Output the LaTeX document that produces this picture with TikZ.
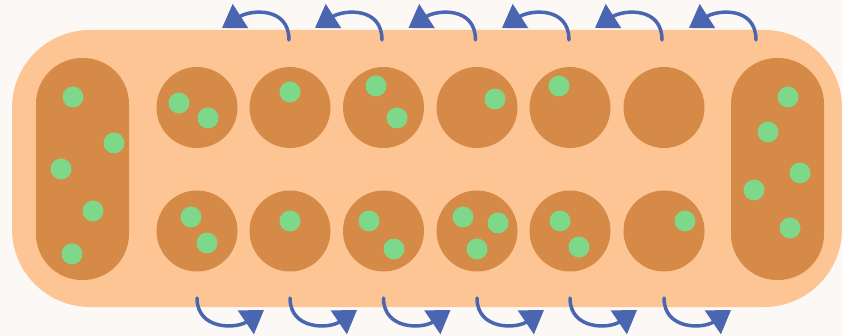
\documentclass[tikz,border=0pt]{standalone}
\usetikzlibrary{arrows.meta}
\definecolor{bgc}{HTML}{FCF8F5}
\definecolor{boardc}{HTML}{FDC594}
\definecolor{pitc}{HTML}{D68A47}
\definecolor{seedc}{HTML}{7ED88A}
\definecolor{arrowc}{HTML}{4A66B0}
\begin{document}
\begin{tikzpicture}[x=1pt,y=-1pt,
  pit/.style={circle,fill=pitc,minimum size=81pt,inner sep=0pt},
  store/.style={rectangle,fill=pitc,minimum width=93pt,minimum height=222pt,rounded corners=46pt,inner sep=0pt},
  seed/.style={fill=seedc},
  sow/.style={draw=arrowc,line width=3.5pt,line cap=round,-{Triangle[length=22pt,width=28pt]}}]
% canvas
\fill[bgc] (0,0) rectangle (842,336);
\useasboundingbox (0,0) rectangle (842,336);
% board
\fill[boardc,rounded corners=78pt] (12,30) rectangle (842,307);
% stores
\node[store] (lstore) at (82.5,169) {};
\node[store] (rstore) at (777.5,169) {};
% pits
\foreach \i/\x in {1/197,2/290,3/383.5,4/477,5/570,6/664}{
  \node[pit] (t\i) at (\x,107.5) {};
  \node[pit] (b\i) at (\x,231) {};
}
% seeds in the stores
\foreach \p in {(73,97),(114,143),(61,169),(93,211),(72,254),
                (788,97),(768,132),(800,173),(754,190),(790,228)}
  \fill[seed] \p circle (10.5);
% seeds in the top row
\foreach \p in {(179,103),(208,118),(290,92),(376,86),(397,118),(495,99),(559,86)}
  \fill[seed] \p circle (10.5);
% seeds in the bottom row
\foreach \p in {(191,217),(207,243),(290,221),(369,221),(394,249),
                (463,217),(498,223),(477,249),(560,221),(579,247),(685,221)}
  \fill[seed] \p circle (10.5);
% sowing direction, top row (right to left)
\foreach \i/\x in {1/197,2/290,3/383.5,4/477,5/570,6/664}{
  \coordinate (ts\i) at (\x+92,40);
  \coordinate (tt\i) at (\x+25,28);
  \draw[sow] (ts\i) .. controls +(0,-34) and +(28,-18) .. (tt\i);
}
% sowing direction, bottom row (left to right)
\foreach \i/\x in {1/197,2/290,3/383.5,4/477,5/570,6/664}{
  \coordinate (bs\i) at (\x,298);
  \coordinate (bt\i) at (\x+67,310);
  \draw[sow] (bs\i) .. controls +(0,32) and +(-28,19) .. (bt\i);
}
\end{tikzpicture}
\end{document}
